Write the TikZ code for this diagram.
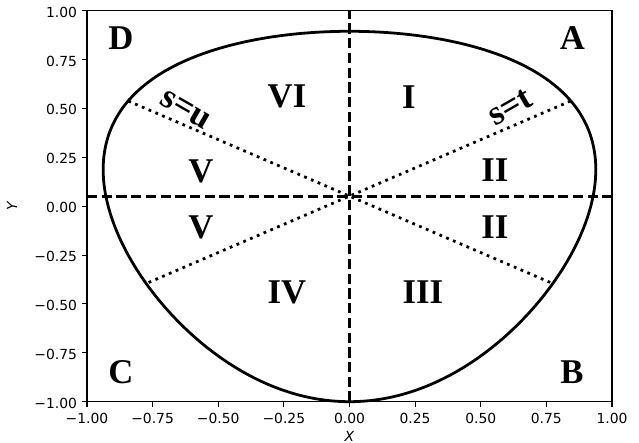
\documentclass[tikz,border=0pt]{standalone}
\usepackage{fontspec}
\setmainfont{DejaVu Sans}
\newfontfamily\regfont{Liberation Serif}
\begin{document}
\begin{tikzpicture}[x=189pt,y=140.76pt,
  declare function={
    ss(\p)=7.79193+9.25547*(1-cos(\p))/2;
    bx(\s)=0.11819*sqrt(max(0,1-7.79193/\s))*sqrt(max(0,(46.6269-\s)*(17.0474-\s)));
    by(\s)=3*(17.0474-\s)/14.6548-1;
  },
  curve/.style={line width=2pt,black,line join=round},
  dashline/.style={line width=2pt, dash pattern=on 7.4pt off 3.2pt},
  dotline/.style={line width=2pt, dash pattern=on 2pt off 3.3pt},
  frame/.style={line width=0.8pt},
  tickmark/.style={line width=0.8pt},
  ticklab/.style={font=\fontsize{10}{12}\selectfont, inner sep=0pt},
  axlab/.style={font=\fontsize{10}{12}\selectfont\itshape, inner sep=0pt},
  region/.style={font=\regfont\bfseries\fontsize{25}{30}\selectfont, inner sep=0pt}
]
\useasboundingbox (-1.3314,-1.2113) rectangle (1.1029,1.0547);
\def\egg{plot[domain=0:180, samples=181, variable=\p] ({bx(ss(\p))},{by(ss(\p))}) -- plot[domain=180:0, samples=181, variable=\p] ({-bx(ss(\p))},{by(ss(\p))}) -- cycle}
% dashed lines
\draw[dashline] (-1,0.0515) -- (1,0.0515);
\draw[dashline] (0,-1) -- (0,1);
% dotted lines s=t and s=u, clipped to the boundary
\begin{scope}
  \clip \egg;
  \draw[dotline] (-1.1,0.6866) -- (1.1,-0.5836);
  \draw[dotline] (-1.1,-0.5836) -- (1.1,0.6866);
\end{scope}
% boundary curve
\draw[curve] \egg;
% frame
\draw[frame] (-1,-1) rectangle (1,1);
% ticks
\foreach \v/\t [count=\i] in {-1/−1.00,-0.75/−0.75,-0.5/−0.50,-0.25/−0.25,0/0.00,0.25/0.25,0.5/0.50,0.75/0.75,1/1.00}{
  \draw[tickmark] (\v,-1) -- ++(0,-3.5pt);
  \node[ticklab] (xt\i) at (\v,-1.087) {\t};
  \draw[tickmark] (-1,\v) -- ++(-3.5pt,0);
  \node[ticklab, anchor=east, xshift=-7pt, yshift=-1pt] (yt\i) at (-1,\v) {\t};
}
\node[axlab] (xlab) at (0,-1.177) {X};
\node[axlab, rotate=90] (ylab) at (-1.2857,0) {Y};
% corner labels
\node[region] (lA) at (0.8495,0.860) {A};
\node[region] (lB) at (0.8476,-0.8506) {B};
\node[region] (lC) at (-0.8705,-0.8506) {C};
\node[region] (lD) at (-0.8705,0.860) {D};
% region labels
\node[region] (r1) at (0.2267,0.556) {I};
\node[region] (r2a) at (0.554,0.185) {II};
\node[region] (r2b) at (0.554,-0.106) {II};
\node[region] (r3) at (0.280,-0.439) {III};
\node[region] (r4) at (-0.238,-0.439) {IV};
\node[region] (r5a) at (-0.566,0.180) {V};
\node[region] (r5b) at (-0.566,-0.106) {V};
\node[region] (r6) at (-0.238,0.560) {VI};
% line labels
\node[region, rotate=30] (st) at (0.613,0.506) {s=t};
\node[region, rotate=-30] (su) at (-0.625,0.492) {s=u};
\end{tikzpicture}
\end{document}
